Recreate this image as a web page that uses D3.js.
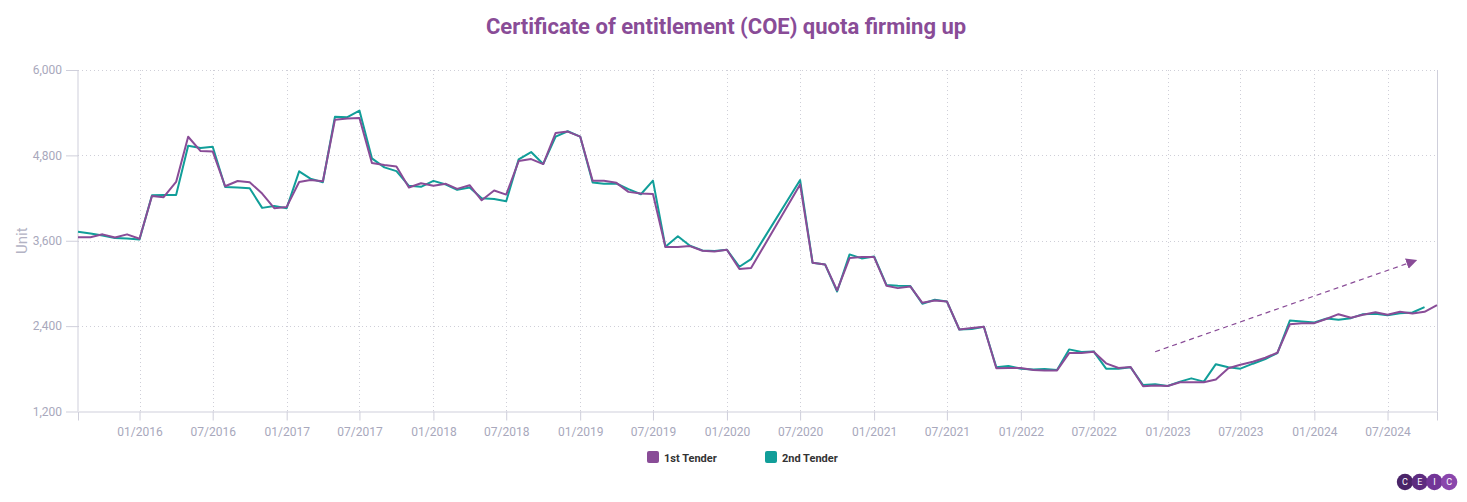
<!DOCTYPE html>
<html>
<head>
<meta charset="utf-8">
<script src="https://cdn.jsdelivr.net/npm/d3@7"></script>
<style>
  body { margin: 0; background: #fff; }
  svg { display: block; font-family: Roboto, "Noto Sans", sans-serif; }
</style>
</head>
<body>
<svg id="chart" width="1467" height="502"></svg>
<script>
// months with a tender (no bidding Apr-Jun 2020)
const months = [
  "2015-08","2015-09","2015-10","2015-11","2015-12",
  "2016-01","2016-02","2016-03","2016-04","2016-05","2016-06","2016-07","2016-08","2016-09","2016-10","2016-11","2016-12",
  "2017-01","2017-02","2017-03","2017-04","2017-05","2017-06","2017-07","2017-08","2017-09","2017-10","2017-11","2017-12",
  "2018-01","2018-02","2018-03","2018-04","2018-05","2018-06","2018-07","2018-08","2018-09","2018-10","2018-11","2018-12",
  "2019-01","2019-02","2019-03","2019-04","2019-05","2019-06","2019-07","2019-08","2019-09","2019-10","2019-11","2019-12",
  "2020-01","2020-02","2020-03","2020-07","2020-08","2020-09","2020-10","2020-11","2020-12",
  "2021-01","2021-02","2021-03","2021-04","2021-05","2021-06","2021-07","2021-08","2021-09","2021-10","2021-11","2021-12",
  "2022-01","2022-02","2022-03","2022-04","2022-05","2022-06","2022-07","2022-08","2022-09","2022-10","2022-11","2022-12",
  "2023-01","2023-02","2023-03","2023-04","2023-05","2023-06","2023-07","2023-08","2023-09","2023-10","2023-11","2023-12",
  "2024-01","2024-02","2024-03","2024-04","2024-05","2024-06","2024-07","2024-08","2024-09","2024-10","2024-11"
];

const firstTender = [
  3650, 3650, 3690, 3645, 3690,
  3628, 4230, 4212, 4426, 5062, 4860, 4856, 4366, 4440, 4422, 4263, 4058,
  4076, 4426, 4454, 4436, 5300, 5318, 5325, 4692, 4664, 4645, 4348, 4409,
  4372, 4400, 4329, 4381, 4169, 4306, 4249, 4720, 4748, 4678, 5115, 5134,
  5064, 4442, 4442, 4414, 4287, 4264, 4256, 3511, 3511, 3525, 3459, 3450,
  3473, 3202, 3216, 4392, 3291, 3267, 2902, 3356, 3370,
  3370, 2967, 2934, 2958, 2728, 2761, 2747, 2353, 2375, 2391, 1807, 1811,
  1811, 1783, 1778, 1778, 2021, 2021, 2040, 1877, 1811, 1825, 1554, 1564,
  1559, 1610, 1610, 1610, 1650, 1807, 1858, 1900, 1956, 2026, 2428, 2442,
  2442, 2503, 2568, 2517, 2559, 2596, 2559, 2601, 2578, 2601, 2694
];

const secondTender = [
  3726, 3703, 3675, 3637, 3633,
  3619, 4240, 4244, 4244, 4935, 4903, 4921, 4356, 4347, 4338, 4062, 4090,
  4058, 4576, 4473, 4422, 5342, 5337, 5430, 4758, 4631, 4579, 4372, 4358,
  4442, 4391, 4315, 4348, 4198, 4188, 4155, 4744, 4847, 4678, 5064, 5139,
  5064, 4419, 4400, 4405, 4325, 4254, 4445, 3515, 3663, 3530, 3464, 3455,
  3473, 3234, 3342, 4453, 3291, 3267, 2887, 3408, 3352,
  3380, 2977, 2967, 2963, 2714, 2770, 2747, 2353, 2360, 2391, 1821, 1839,
  1802, 1792, 1797, 1783, 2073, 2035, 2045, 1802, 1802, 1821, 1573, 1582,
  1559, 1620, 1666, 1620, 1865, 1821, 1802, 1872, 1937, 2021, 2479, 2465,
  2451, 2507, 2489, 2512, 2568, 2573, 2554, 2582, 2592, 2666, null
];

const seriesNames = ["1st Tender", "2nd Tender"];
const seriesColors = ["#894c97", "#119e99"];
const yTicks = [1200, 2400, 3600, 4800, 6000];

// trend arrow annotation (date, value)
const arrowFrom = ["2022-12-01", 2040];
const arrowTo = ["2024-09-13", 3330];

const width = 1467, height = 502;
const margin = {top: 70, right: 30, bottom: 90.5, left: 78};

const parse = d3.timeParse("%Y-%m");
const parseDay = d3.timeParse("%Y-%m-%d");
const dates = months.map(parse);

const svg = d3.select("#chart");

const x = d3.scaleTime()
  .domain([new Date(2015, 7, 1), new Date(2024, 10, 1)])
  .range([margin.left, width - margin.right]);

const y = d3.scaleLinear()
  .domain([1200, 6000])
  .range([height - margin.bottom, margin.top]);

const xTicks = d3.timeMonth.every(6).range(new Date(2016, 0, 1), new Date(2024, 8, 1));

// title
svg.append("text")
  .attr("x", 726)
  .attr("y", 34)
  .attr("text-anchor", "middle")
  .attr("font-size", 22)
  .attr("font-weight", "bold")
  .attr("fill", "#894c97")
  .text("Certificate of entitlement (COE) quota firming up");

// grid
const grid = svg.append("g")
  .attr("stroke", "#cfcfd8")
  .attr("stroke-dasharray", "1,3");

grid.selectAll("line.h")
  .data(yTicks.slice(1))
  .join("line")
  .attr("class", "h")
  .attr("x1", margin.left)
  .attr("x2", width - margin.right)
  .attr("y1", d => Math.round(y(d)) + 0.5)
  .attr("y2", d => Math.round(y(d)) + 0.5);

grid.selectAll("line.v")
  .data(xTicks)
  .join("line")
  .attr("class", "v")
  .attr("x1", d => Math.round(x(d)) + 0.5)
  .attr("x2", d => Math.round(x(d)) + 0.5)
  .attr("y1", margin.top)
  .attr("y2", height - margin.bottom);

// axes
const xAxis = svg.append("g")
  .attr("transform", `translate(0,${height - margin.bottom})`)
  .call(d3.axisBottom(x).tickValues(xTicks).tickFormat(d3.timeFormat("%m/%Y")).tickSize(9).tickPadding(7));

const yAxis = svg.append("g")
  .attr("transform", `translate(${margin.left},0)`)
  .call(d3.axisLeft(y).tickValues(yTicks).tickFormat(d3.format(",")).tickSize(12).tickPadding(4));

[xAxis, yAxis].forEach(a => {
  a.select(".domain").attr("stroke", "#cfcfdb");
  a.selectAll(".tick line").attr("stroke", "#cfcfdb");
  a.selectAll(".tick text")
    .attr("fill", "#a8a8bc")
    .attr("font-size", 12)
    .attr("font-family", "Roboto, sans-serif");
});
yAxis.select(".domain").attr("d", `M0,${margin.top}V${height - margin.bottom}`);

// right frame line
svg.append("line")
  .attr("x1", width - margin.right + 0.5)
  .attr("x2", width - margin.right + 0.5)
  .attr("y1", margin.top)
  .attr("y2", height - margin.bottom)
  .attr("stroke", "#cfcfdb");

// y title
svg.append("text")
  .attr("transform", `translate(27,${(margin.top + height - margin.bottom) / 2}) rotate(-90)`)
  .attr("text-anchor", "middle")
  .attr("font-size", 15)
  .attr("fill", "#b3b3c4")
  .text("Unit");

// lines
const line = d3.line()
  .defined(d => d[1] != null)
  .x(d => x(d[0]))
  .y(d => y(d[1]));

[secondTender, firstTender].forEach((vals, i) => {
  const k = i === 0 ? 1 : 0;
  svg.append("path")
    .datum(dates.map((d, j) => [d, vals[j]]))
    .attr("fill", "none")
    .attr("stroke", seriesColors[k])
    .attr("stroke-width", 2)
    .attr("stroke-linejoin", "round")
    .attr("d", line);
});

// trend arrow
svg.append("defs").append("marker")
  .attr("id", "head")
  .attr("viewBox", "0 0 10 10")
  .attr("refX", 1)
  .attr("refY", 5)
  .attr("markerWidth", 11)
  .attr("markerHeight", 11)
  .attr("markerUnits", "userSpaceOnUse")
  .attr("orient", "auto")
  .append("path")
  .attr("d", "M0,0L10,5L0,10Z")
  .attr("fill", "#894c97");

const ax1 = x(parseDay(arrowFrom[0])), ay1 = y(arrowFrom[1]);
const ax2 = x(parseDay(arrowTo[0])), ay2 = y(arrowTo[1]);
const alen = Math.hypot(ax2 - ax1, ay2 - ay1);
svg.append("line")
  .attr("x1", ax1)
  .attr("y1", ay1)
  .attr("x2", ax2 - (ax2 - ax1) / alen * 10)
  .attr("y2", ay2 - (ay2 - ay1) / alen * 10)
  .attr("stroke", "#894c97")
  .attr("stroke-width", 1.2)
  .attr("stroke-dasharray", "5,4")
  .attr("marker-end", "url(#head)");

// legend
const legendX = [647, 765];
const legend = svg.append("g");
seriesNames.forEach((name, i) => {
  legend.append("rect")
    .attr("x", legendX[i])
    .attr("y", 451)
    .attr("width", 12)
    .attr("height", 12)
    .attr("rx", 2)
    .attr("fill", seriesColors[i]);
  legend.append("text")
    .attr("x", legendX[i] + 17)
    .attr("y", 461.5)
    .attr("font-size", 11)
    .attr("font-weight", "bold")
    .attr("fill", "#333")
    .text(name);
});

// CEIC logo
const logoLetters = ["C", "E", "I", "C"];
const logoColors = ["#4a2468", "#5e2c80", "#723597", "#8a46ac"];
const logo = svg.append("g").attr("transform", "translate(1405,482)");
logoLetters.forEach((ch, i) => {
  logo.append("circle")
    .attr("cx", i * 14.7)
    .attr("r", 8.2)
    .attr("fill", logoColors[i]);
});
logoLetters.forEach((ch, i) => {
  logo.append("text")
    .attr("x", i * 14.7)
    .attr("y", 3.3)
    .attr("text-anchor", "middle")
    .attr("font-size", 9)
    .attr("fill", "#fff")
    .text(ch);
});
</script>
</body>
</html>
